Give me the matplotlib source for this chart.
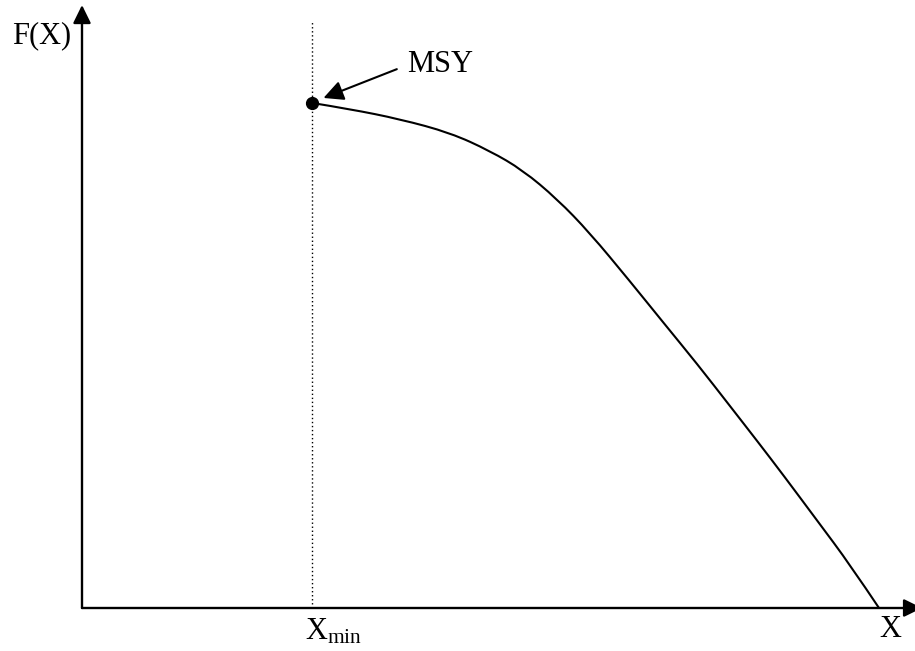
import matplotlib
matplotlib.use("Agg")
import matplotlib.pyplot as plt
from matplotlib.path import Path
from matplotlib.patches import PathPatch
import numpy as np

plt.rcParams['font.family'] = ['Liberation Serif', 'DejaVu Serif']
plt.rcParams['mathtext.fontset'] = 'custom'
plt.rcParams['mathtext.rm'] = 'Liberation Serif'
plt.rcParams['mathtext.it'] = 'Liberation Serif'

# Stock size X (fraction of carrying capacity) and yield F(X) (fraction of MSY)
stock = [0.289, 0.336, 0.399, 0.462, 0.512, 0.553, 0.596, 0.637, 0.687,
         0.729, 0.772, 0.813, 0.848, 0.880, 0.922, 0.964, 1.0]
yield_ = [1.0, 0.988, 0.968, 0.941, 0.905, 0.867, 0.810, 0.743, 0.648,
          0.566, 0.483, 0.400, 0.329, 0.263, 0.174, 0.085, 0.0]
x_min = stock[0]
msy = yield_[0]

fig = plt.figure(figsize=(9.15, 6.51), dpi=100)
ax = fig.add_axes([0, 0, 1, 1])
# pixel layout: origin at (82, 608), 797 px per unit in x, 505 px per unit in y
ax.set_xlim(-82 / 797, (915 - 82) / 797)
ax.set_ylim(-(651 - 608) / 505, 608 / 505)
ax.axis('off')

# axes with arrow heads
arrow_kw = dict(arrowstyle='-|>,head_length=0.55,head_width=0.27',
                lw=1.7, color='black', mutation_scale=20,
                shrinkA=0, shrinkB=0)
ax.annotate('', xy=(0, 1.194), xytext=(0, 0), arrowprops=arrow_kw,
            annotation_clip=False)
ax.annotate('', xy=(1.054, 0), xytext=(0, 0), arrowprops=arrow_kw,
            annotation_clip=False)

# dotted line at X_min
ax.plot([x_min, x_min], [0, 1.164], color='black', lw=1.0,
        linestyle=(0, (1, 1.9)))

# yield curve, drawn as a smooth quadratic path through the read points
pts = np.column_stack([stock, yield_])
verts = [pts[0]]
codes = [Path.MOVETO]
for i in range(1, len(pts) - 2):
    verts += [pts[i], (pts[i] + pts[i + 1]) / 2]
    codes += [Path.CURVE3, Path.CURVE3]
verts += [pts[-2], pts[-1]]
codes += [Path.CURVE3, Path.CURVE3]
ax.add_patch(PathPatch(Path(verts, codes), facecolor='none',
                       edgecolor='black', lw=1.5))
ax.plot([x_min], [msy], 'o', color='black', markersize=8.5)

# MSY label with arrow
ax.annotate('', xy=(x_min + 0.014, msy + 0.01), xytext=(0.395, 1.067),
            arrowprops=dict(arrowstyle='-|>,head_length=0.6,head_width=0.3',
                            lw=1.5, color='black', mutation_scale=20,
                            shrinkA=0, shrinkB=0))
ax.text(0.408, 1.061, 'MSY', fontsize=22, ha='left', va='baseline')

# axis labels
ax.text(-0.088, 1.119, 'F(X)', fontsize=22, ha='left', va='baseline')
ax.text(1.0, -0.058, 'X', fontsize=22, ha='left', va='baseline')
ax.text(x_min - 0.009, -0.063, r'X$_{\mathrm{min}}$', fontsize=22,
        ha='left', va='baseline')

fig.savefig('out.png', dpi=100)
